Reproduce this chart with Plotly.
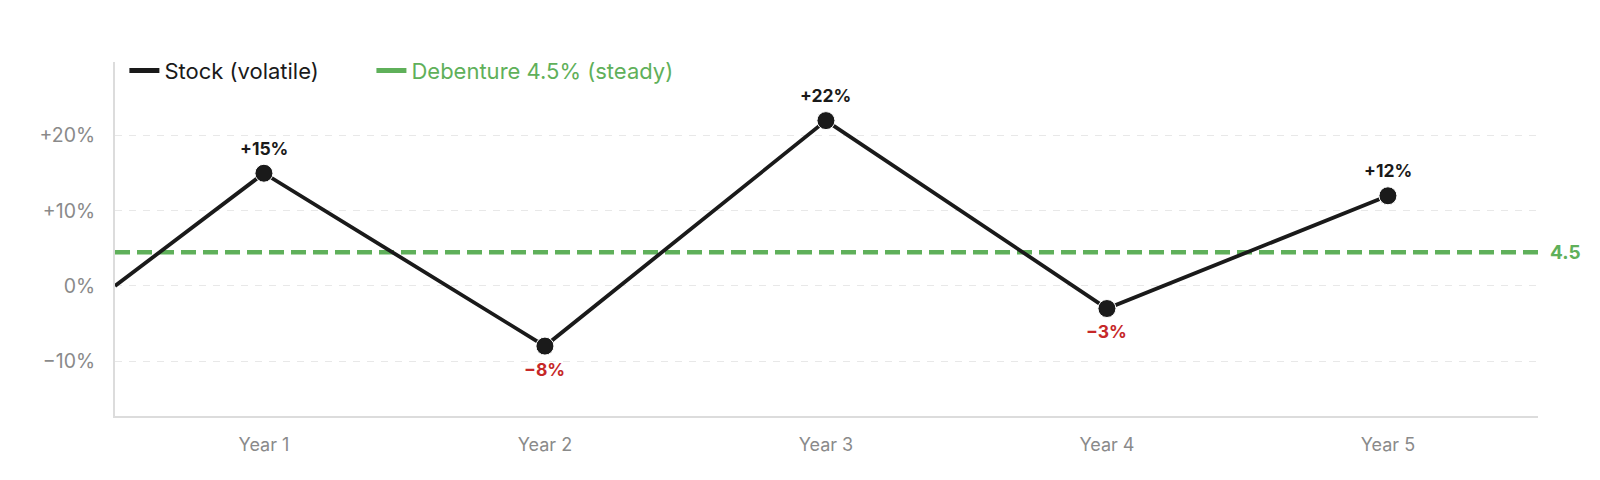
import plotly.graph_objects as go

# ---- data ----
years = ["Year 1", "Year 2", "Year 3", "Year 4", "Year 5"]
stock_returns = [15, -8, 22, -3, 12]
stock_start = 0
debenture_rate = 4.5
y_tick_vals = [-10, 0, 10, 20]
y_tick_text = ["\u221210%", "0%", "+10%", "+20%"]

# ---- styling / layout constants ----
x_range = [-0.53, 4.534]
y_range = [-17.3, 29.8]
BLACK = "#1a1a1a"
GREEN = "#5fb05a"
RED = "#c62828"
GRAY_TXT = "#8a8a8a"
AXIS = "#dcdcdc"
GRID = "#e8e8e8"
FONT = "Inter, Roboto, sans-serif"


def fmt(v):
    if v > 0:
        return f"+{v}%"
    if v < 0:
        return f"\u2212{abs(v)}%"
    return "0%"


x_idx = list(range(len(years)))

fig = go.Figure()

# stock line (starts at the left edge of the plot)
fig.add_trace(go.Scatter(
    x=[x_range[0]] + x_idx,
    y=[stock_start] + stock_returns,
    mode="lines+markers",
    line=dict(color=BLACK, width=3.8),
    marker=dict(size=[0] + [18] * len(stock_returns), color=BLACK, opacity=1),
    cliponaxis=False,
    showlegend=False,
    hoverinfo="skip",
))

# legend-only entries (two legends so spacing matches)
fig.add_trace(go.Scatter(
    x=[None], y=[None], mode="lines",
    line=dict(color=BLACK, width=5),
    name="Stock (volatile)",
    legend="legend",
))
fig.add_trace(go.Scatter(
    x=[None], y=[None], mode="lines",
    line=dict(color=GREEN, width=5),
    name=f"Debenture {debenture_rate}% (steady)",
    legend="legend2",
))

# debenture dashed line
fig.add_shape(
    type="line", xref="paper", yref="y",
    x0=0, x1=1, y0=debenture_rate, y1=debenture_rate,
    line=dict(color=GREEN, width=4.5, dash="15px,7px"),
    layer="below",
)
fig.add_annotation(
    xref="paper", yref="y", x=1, y=debenture_rate, xshift=10,
    text=f"<b>{debenture_rate:g}</b>", showarrow=False,
    xanchor="left", yanchor="middle",
    font=dict(family=FONT, size=19, color=GREEN),
)

# value labels
for xi, v in zip(x_idx, stock_returns):
    fig.add_annotation(
        x=xi, y=v, text=f"<b>{fmt(v)}</b>", showarrow=False,
        yshift=25 if v >= 0 else -23,
        xanchor="center", yanchor="middle",
        font=dict(family=FONT, size=17.5, color=BLACK if v >= 0 else RED),
    )

legend_common = dict(
    orientation="h", y=0.9755, xanchor="left", yanchor="middle",
    bgcolor="rgba(0,0,0,0)", itemwidth=30,
)

fig.update_layout(
    width=1584, height=464,
    margin=dict(l=107, r=54, t=54, b=56),
    paper_bgcolor="white", plot_bgcolor="white",
    font=dict(family=FONT, size=18, color=GRAY_TXT),
    legend=dict(x=0.0066, font=dict(family=FONT, size=22, color=BLACK), **legend_common),
    legend2=dict(x=0.1802, font=dict(family=FONT, size=22, color=GREEN), **legend_common),
    xaxis=dict(
        range=x_range, tickvals=x_idx, ticktext=years,
        showgrid=False, zeroline=False,
        showline=True, linecolor=AXIS, linewidth=2,
        ticks="outside", ticklen=11, tickcolor="rgba(0,0,0,0)",
        tickfont=dict(family=FONT, size=18, color=GRAY_TXT),
        fixedrange=True,
    ),
    yaxis=dict(
        range=y_range, tickvals=y_tick_vals, ticktext=y_tick_text,
        showgrid=True, gridcolor=GRID, griddash="7px,7px", gridwidth=1.2,
        zeroline=False,
        showline=True, linecolor=AXIS, linewidth=2,
        ticks="outside", ticklen=14, tickcolor="rgba(0,0,0,0)",
        tickfont=dict(family=FONT, size=19.5, color=GRAY_TXT),
        fixedrange=True,
    ),
)

fig.write_html("out.html")
